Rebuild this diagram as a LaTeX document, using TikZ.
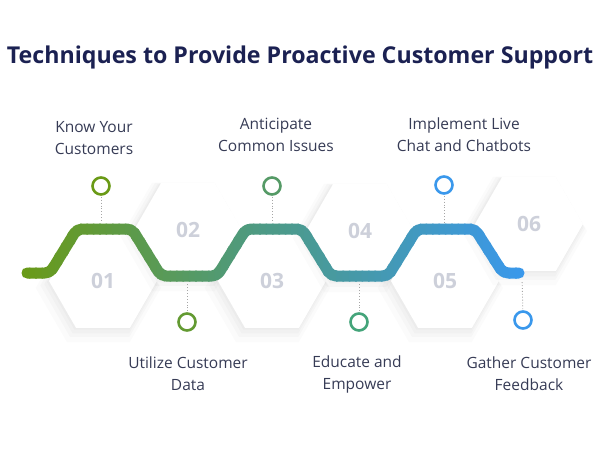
\documentclass[tikz,border=0pt]{standalone}
\usepackage{fontspec}
\setmainfont{Open Sans}
\usetikzlibrary{shapes.geometric, shadows}

\definecolor{titleblue}{HTML}{1B2152}
\definecolor{labelgray}{HTML}{363B55}
\definecolor{numgray}{HTML}{CDD0DA}
\definecolor{wgreen}{HTML}{6A9A16}
\definecolor{wteal}{HTML}{4C9A88}
\definecolor{wblue}{HTML}{3A98EC}

\begin{document}
\begin{tikzpicture}[
  x=1pt, y=-1pt,
  hexbox/.style={regular polygon, regular polygon sides=6, minimum size=108pt, inner sep=0pt,
    fill=white, text=numgray, font=\fontsize{21}{21}\selectfont\bfseries,
    drop shadow={shadow xshift=-4pt, shadow yshift=-6pt, shadow scale=1.16, opacity=.015, fill=black},
    drop shadow={shadow xshift=-3pt, shadow yshift=-4pt, shadow scale=1.10, opacity=.018, fill=black},
    drop shadow={shadow xshift=-2pt, shadow yshift=-3pt, shadow scale=1.05, opacity=.02, fill=black},
    drop shadow={shadow xshift=-1pt, shadow yshift=-1pt, shadow scale=1.02, opacity=.02, fill=black}},
  ring/.style={circle, draw=#1, line width=2.6pt, minimum size=17pt, inner sep=0pt, fill=white},
  label/.style={align=center, text=labelgray, font=\fontsize{15.5}{22}\selectfont},
  dotline/.style={draw=gray!70, dotted, line width=0.9pt},
  wave/.style={line width=11pt, line cap=round, line join=round, rounded corners=5pt}
]
\useasboundingbox (0,0) rectangle (600,450);

% title
\node[font=\fontsize{23.2}{24}\selectfont\bfseries, text=titleblue] (title) at (300,57)
  {Techniques to Provide Proactive Customer Support};

% hexagons
\node[hexbox] (h1) at (103,281) {01};
\node[hexbox] (h2) at (188,230) {02};
\node[hexbox] (h3) at (272,281) {03};
\node[hexbox] (h4) at (360,231) {04};
\node[hexbox] (h5) at (445,281) {05};
\node[hexbox] (h6) at (529,224) {06};

% points on the wave
\coordinate (t1) at (101,229);
\coordinate (b2) at (187,276);
\coordinate (t3) at (272,229);
\coordinate (b4) at (359,276);
\coordinate (t5) at (444,229);
\coordinate (b6) at (522,274);

% rings
\node[ring=wgreen] (r1) at (101,186) {};
\node[ring=wgreen!75!wteal] (r2) at (187,322) {};
\node[ring=wteal!70!wgreen] (r3) at (272,186) {};
\node[ring=wteal!90!green] (r4) at (359,322) {};
\node[ring=wblue] (r5) at (444,185) {};
\node[ring=wblue] (r6) at (523,320) {};

\draw[dotline, shorten <=1pt, shorten >=7pt] (r1) -- (t1);
\draw[dotline, shorten <=1pt, shorten >=7pt] (r3) -- (t3);
\draw[dotline, shorten <=1pt, shorten >=7pt] (r5) -- (t5);
\draw[dotline, shorten <=1pt, shorten >=7pt] (r2) -- (b2);
\draw[dotline, shorten <=1pt, shorten >=7pt] (r4) -- (b4);
\draw[dotline, shorten <=1pt, shorten >=7pt] (r6) -- (b6);

% wave, coloured strip by strip
\def\wavepath{(27,273) -- (50,273) -- (77,229) -- (132,229) -- (161,276) -- (217,276)
  -- (246,229) -- (302,229) -- (331,276) -- (388,276) -- (417,229) -- (475,229)
  -- (503,273) -- (519,273)}
\foreach \i in {0,...,39} {
  \pgfmathsetmacro\xa{16+\i*6.4}
  \pgfmathsetmacro\pc{100*\i/39}
  \begin{scope}
    \clip (\xa,150) rectangle (\xa+8,300);
    \draw[wave, draw=wteal!\pc!wgreen] \wavepath;
  \end{scope}
}
\foreach \i in {0,...,39} {
  \pgfmathsetmacro\xa{272+\i*6.4}
  \pgfmathsetmacro\pc{100*\i/39}
  \begin{scope}
    \clip (\xa,150) rectangle (\xa+8,300);
    \draw[wave, draw=wblue!\pc!wteal] \wavepath;
  \end{scope}
}

% labels
\node[label] (l1) at (94,138) {Know Your\\Customers};
\node[label] (l3) at (276,135) {Anticipate\\Common Issues};
\node[label] (l5) at (464,135) {Implement Live\\Chat and Chatbots};
\node[label] (l2) at (188,374) {Utilize Customer\\Data};
\node[label] (l4) at (357,374) {Educate and\\Empower};
\node[label] (l6) at (529,374) {Gather Customer\\Feedback};
\end{tikzpicture}
\end{document}
